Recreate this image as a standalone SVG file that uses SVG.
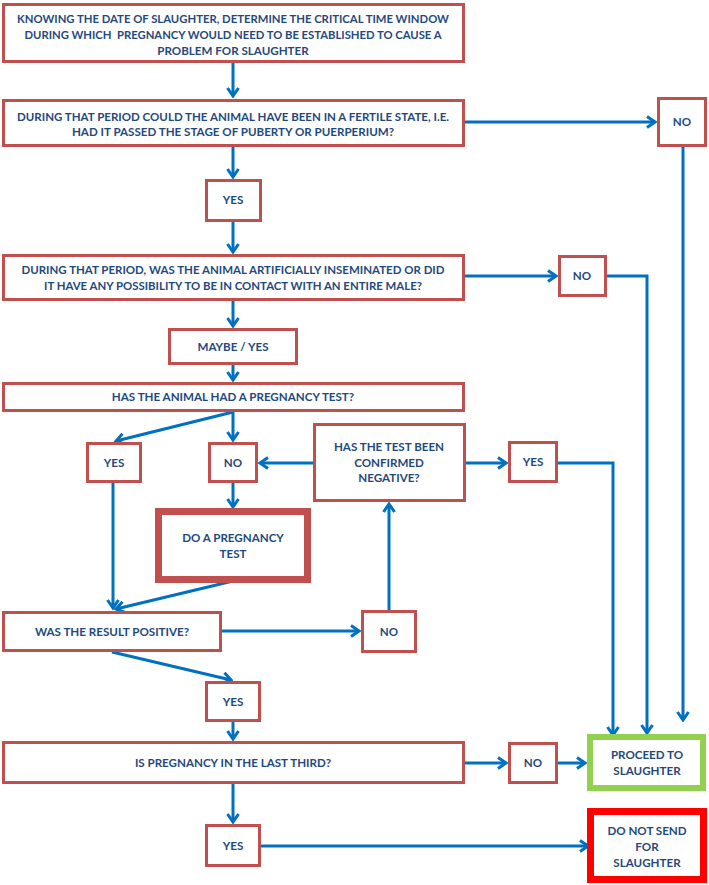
<svg xmlns="http://www.w3.org/2000/svg" width="709" height="885" viewBox="0 0 709 885">
<style>
.b{fill:#fff;stroke:#C0504D;stroke-width:3}
.t{font-family:Lato,"Open Sans","Liberation Sans",sans-serif;font-weight:bold;font-size:11.6px;fill:#1F497D;text-anchor:middle}
.c path{fill:none;stroke:#0070C0;stroke-width:3}
</style>
<defs>
<marker id="a" viewBox="0 0 12 14" refX="10" refY="7" markerWidth="12" markerHeight="14" orient="auto" markerUnits="userSpaceOnUse">
<path d="M2,1.5 L10,7 L2,12.5" fill="none" stroke="#0070C0" stroke-width="3"/>
</marker>
</defs>
<rect width="709" height="885" fill="#fff"/>
<g class="c">
<path d="M233,63V96" marker-end="url(#a)"/>
<path d="M465,122H655" marker-end="url(#a)"/>
<path d="M683,147V720" marker-end="url(#a)"/>
<path d="M233,147V177" marker-end="url(#a)"/>
<path d="M233,222V252" marker-end="url(#a)"/>
<path d="M465,276H556" marker-end="url(#a)"/>
<path d="M607,276H647V733" marker-end="url(#a)"/>
<path d="M233,301V326" marker-end="url(#a)"/>
<path d="M233,365V380" marker-end="url(#a)"/>
<path d="M233,412L116,441" marker-end="url(#a)"/>
<path d="M233,412V440" marker-end="url(#a)"/>
<path d="M313,463H260" marker-end="url(#a)"/>
<path d="M466,463H506" marker-end="url(#a)"/>
<path d="M558,463H613V735" marker-end="url(#a)"/>
<path d="M233,483V507" marker-end="url(#a)"/>
<path d="M113,483V608" marker-end="url(#a)"/>
<path d="M233,581L116,609" marker-end="url(#a)"/>
<path d="M222,631H359" marker-end="url(#a)"/>
<path d="M389,610V504" marker-end="url(#a)"/>
<path d="M112,652L231,680" marker-end="url(#a)"/>
<path d="M233,722V739" marker-end="url(#a)"/>
<path d="M465,763H506" marker-end="url(#a)"/>
<path d="M558,763H585" marker-end="url(#a)"/>
<path d="M233,784V822" marker-end="url(#a)"/>
<path d="M261,846H588" marker-end="url(#a)"/>
</g>
<g id="n1"><rect class="b" x="3.5" y="4.5" width="460" height="57"/>
<text class="t" x="233" y="23" textLength="432" lengthAdjust="spacingAndGlyphs">KNOWING THE DATE OF SLAUGHTER, DETERMINE THE CRITICAL TIME WINDOW</text>
<text class="t" x="233" y="39" xml:space="preserve" textLength="417" lengthAdjust="spacingAndGlyphs">DURING WHICH  PREGNANCY WOULD NEED TO BE ESTABLISHED TO CAUSE A</text>
<text class="t" x="233" y="55">PROBLEM FOR SLAUGHTER</text></g>
<g id="n2"><rect class="b" x="3.5" y="100.5" width="460" height="45"/>
<text class="t" x="233" y="121" textLength="432" lengthAdjust="spacingAndGlyphs">DURING THAT PERIOD COULD THE ANIMAL HAVE BEEN IN A FERTILE STATE, I.E.</text>
<text class="t" x="233" y="136">HAD IT PASSED THE STAGE OF PUBERTY OR PUERPERIUM?</text></g>
<g id="no1"><rect class="b" x="658.5" y="98.5" width="47" height="47"/><text class="t" x="682" y="126">NO</text></g>
<g id="yes1"><rect class="b" x="206.5" y="180.5" width="54" height="40"/><text class="t" x="233" y="204">YES</text></g>
<g id="n3"><rect class="b" x="3.5" y="255.5" width="460" height="44"/>
<text class="t" x="233" y="274" textLength="423" lengthAdjust="spacingAndGlyphs">DURING THAT PERIOD, WAS THE ANIMAL ARTIFICIALLY INSEMINATED OR DID</text>
<text class="t" x="233" y="290" textLength="378" lengthAdjust="spacingAndGlyphs">IT HAVE ANY POSSIBILITY TO BE IN CONTACT WITH AN ENTIRE MALE?</text></g>
<g id="no2"><rect class="b" x="559.5" y="256.5" width="46" height="39"/><text class="t" x="582" y="280">NO</text></g>
<g id="maybe"><rect class="b" x="169.5" y="329.5" width="127" height="34"/><text class="t" x="233" y="351">MAYBE / YES</text></g>
<g id="n4"><rect class="b" x="3.5" y="383.5" width="460" height="27"/><text class="t" x="233" y="401">HAS THE ANIMAL HAD A PREGNANCY TEST?</text></g>
<g id="yes2"><rect class="b" x="87.5" y="443.5" width="53" height="38"/><text class="t" x="114" y="467">YES</text></g>
<g id="no3"><rect class="b" x="209.5" y="443.5" width="47" height="38"/><text class="t" x="233" y="467">NO</text></g>
<g id="confirm"><rect class="b" x="314.5" y="424.5" width="150" height="76"/>
<text class="t" x="389" y="451">HAS THE TEST BEEN</text>
<text class="t" x="389" y="467">CONFIRMED</text>
<text class="t" x="389" y="482">NEGATIVE?</text></g>
<g id="yes3"><rect class="b" x="509.5" y="442.5" width="47" height="39"/><text class="t" x="533" y="466">YES</text></g>
<g id="dotest"><rect class="b" x="158.5" y="511.5" width="149" height="68" style="stroke-width:7"/>
<text class="t" x="233" y="542">DO A PREGNANCY</text>
<text class="t" x="233" y="558">TEST</text></g>
<g id="result"><rect class="b" x="3.5" y="612.5" width="217" height="38"/><text class="t" x="112" y="636">WAS THE RESULT POSITIVE?</text></g>
<g id="no4"><rect class="b" x="362.5" y="611.5" width="53" height="40"/><text class="t" x="389" y="636">NO</text></g>
<g id="yes4"><rect class="b" x="206.5" y="682.5" width="53" height="38"/><text class="t" x="233" y="706">YES</text></g>
<g id="n6"><rect class="b" x="3.5" y="742.5" width="460" height="40"/><text class="t" x="233" y="767">IS PREGNANCY IN THE LAST THIRD?</text></g>
<g id="no5"><rect class="b" x="509.5" y="743.5" width="47" height="39"/><text class="t" x="533" y="767">NO</text></g>
<g id="proceed"><rect class="b" x="590" y="737" width="113" height="51" style="stroke:#92D050;stroke-width:6"/>
<text class="t" x="647" y="759">PROCEED TO</text>
<text class="t" x="647" y="775">SLAUGHTER</text></g>
<g id="yes5"><rect class="b" x="206.5" y="825.5" width="53" height="40"/><text class="t" x="233" y="850">YES</text></g>
<g id="donot"><rect class="b" x="590.5" y="811.5" width="113" height="68" style="stroke:#FF0000;stroke-width:7"/>
<text class="t" x="647" y="835">DO NOT SEND</text>
<text class="t" x="647" y="851">FOR</text>
<text class="t" x="647" y="867">SLAUGHTER</text></g>
</svg>
